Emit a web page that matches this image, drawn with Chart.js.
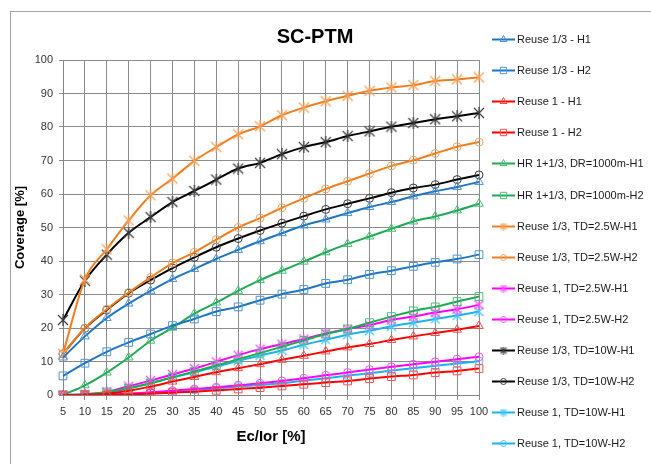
<!DOCTYPE html>
<html>
<head>
<meta charset="utf-8">
<script src="https://cdn.jsdelivr.net/npm/chart.js@4/dist/chart.umd.min.js"></script>
<style>
  html, body { margin: 0; padding: 0; background: #fff; overflow: hidden; }
  #wrap { width: 651px; height: 464px; position: relative; }
</style>
</head>
<body>
<div id="wrap"><canvas id="c" width="651" height="464"></canvas></div>
<script>
// Ec/Ior [%] categories
const ecIor = ['5','10','15','20','25','30','35','40','45','50','55','60','65','70','75','80','85','90','95','100'];
const yTicks = [0, 10, 20, 30, 40, 50, 60, 70, 80, 90, 100];

// Coverage [%] per configuration
const reuse13H1   = [11.2, 17.5, 23.0, 27.3, 31.1, 34.6, 37.6, 40.6, 43.3, 45.9, 48.3, 50.6, 52.4, 54.3, 56.1, 57.6, 59.3, 60.8, 62.1, 63.6];
const reuse13H2   = [5.7, 9.5, 12.9, 15.7, 18.2, 20.7, 22.7, 24.9, 26.3, 28.3, 30.1, 31.5, 33.3, 34.4, 36.0, 37.1, 38.4, 39.6, 40.6, 41.9];
const reuse1H1    = [0, 0.1, 0.4, 1.3, 2.5, 4.0, 5.4, 6.8, 8.0, 9.2, 10.5, 11.7, 13.0, 14.2, 15.2, 16.4, 17.5, 18.5, 19.5, 20.6];
const reuse1H2    = [0, 0, 0, 0.2, 0.4, 0.7, 1.0, 1.4, 1.8, 2.2, 2.7, 3.2, 3.7, 4.2, 4.9, 5.5, 6.0, 6.7, 7.2, 7.9];
const hrH1        = [0, 2.9, 6.7, 11.2, 16.2, 20.1, 24.3, 27.6, 31.1, 34.3, 37.1, 39.8, 42.6, 45.1, 47.3, 49.6, 51.8, 53.3, 55.1, 57.1];
const hrH2        = [0, 0.2, 0.9, 2.0, 3.5, 5.3, 7.0, 8.8, 10.7, 12.5, 14.4, 16.3, 18.2, 19.7, 21.6, 23.4, 25.1, 26.3, 27.9, 29.4];
const td25R13H1   = [12.3, 34.5, 43.5, 52.1, 59.6, 64.6, 69.9, 74.0, 77.8, 80.2, 83.5, 85.8, 87.7, 89.3, 90.8, 91.8, 92.5, 93.7, 94.2, 94.8];
const td25R13H2   = [12.3, 20.0, 25.6, 30.6, 35.1, 39.4, 42.6, 46.4, 50.0, 52.8, 55.9, 58.7, 61.5, 63.8, 66.1, 68.4, 70.1, 72.1, 74.1, 75.5];
const td25R1H1    = [0, 0.2, 0.9, 2.6, 4.3, 6.1, 7.9, 9.9, 11.9, 13.7, 15.2, 16.7, 18.4, 19.7, 20.9, 22.4, 23.4, 24.6, 25.6, 26.9];
const td25R1H2    = [0, 0, 0.1, 0.4, 0.8, 1.3, 1.8, 2.3, 2.9, 3.5, 4.2, 5.0, 5.9, 6.7, 7.6, 8.4, 9.2, 9.9, 10.7, 11.4];
const td10R13H1   = [22.4, 34.1, 41.9, 48.4, 53.1, 57.6, 60.9, 64.3, 67.6, 69.3, 71.9, 74.0, 75.5, 77.3, 78.7, 80.1, 81.2, 82.3, 83.2, 84.2];
const td10R13H2   = [12.3, 19.9, 25.4, 30.4, 34.3, 37.9, 41.1, 44.1, 46.7, 49.1, 51.3, 53.4, 55.4, 57.1, 58.7, 60.4, 61.8, 62.8, 64.3, 65.7];
const td10R1H1    = [0, 0.1, 0.7, 2.0, 3.5, 5.2, 6.8, 8.4, 10.2, 11.8, 13.3, 15.0, 16.5, 18.0, 19.2, 20.5, 21.6, 22.7, 23.7, 24.9];
const td10R1H2    = [0, 0, 0.1, 0.3, 0.6, 1.0, 1.5, 2.0, 2.5, 3.0, 3.5, 4.3, 5.0, 5.8, 6.5, 7.3, 8.0, 8.7, 9.4, 10.1];

const seriesNames = [
  'Reuse 1/3 - H1', 'Reuse 1/3 - H2', 'Reuse 1 - H1', 'Reuse 1 - H2',
  'HR 1+1/3, DR=1000m-H1', 'HR 1+1/3, DR=1000m-H2',
  'Reuse 1/3, TD=2.5W-H1', 'Reuse 1/3, TD=2.5W-H2',
  'Reuse 1, TD=2.5W-H1', 'Reuse 1, TD=2.5W-H2',
  'Reuse 1/3, TD=10W-H1', 'Reuse 1/3, TD=10W-H2',
  'Reuse 1, TD=10W-H1', 'Reuse 1, TD=10W-H2'
];
const seriesValues = [
  reuse13H1, reuse13H2, reuse1H1, reuse1H2, hrH1, hrH2,
  td25R13H1, td25R13H2, td25R1H1, td25R1H2,
  td10R13H1, td10R13H2, td10R1H1, td10R1H2
];

const FONT = '"Liberation Sans", Arial, sans-serif';

// asterisk marker: a diagonal cross with a vertical bar
function starMarker(color, size) {
  const c = document.createElement('canvas');
  c.width = size; c.height = size;
  const g = c.getContext('2d');
  g.strokeStyle = color;
  g.lineWidth = 1.2;
  g.beginPath();
  g.moveTo(1, 1); g.lineTo(size - 1, size - 1);
  g.moveTo(size - 1, 1); g.lineTo(1, size - 1);
  g.moveTo(size / 2, 0); g.lineTo(size / 2, size);
  g.stroke();
  return c;
}

// line colour, marker colour, marker style, marker radius, key marker
const styles = [
  ['#1f74c2', '#4a96dc', 'triangle', 5],
  ['#1f74c2', '#4a96dc', 'rect', 5.5],
  ['#ff0000', '#ff4d4d', 'triangle', 5],
  ['#ff0000', '#ff4d4d', 'rect', 5.5],
  ['#1daa52', '#45c275', 'triangle', 5],
  ['#1daa52', '#45c275', 'rect', 5.5],
  ['#f07d1e', '#f5a25c', starMarker('#f5a25c', 12), 6, starMarker('#f5a25c', 8)],
  ['#f07d1e', '#f5a25c', 'circle', 4],
  ['#ff00ff', '#ff4dff', starMarker('#ff4dff', 11), 6, starMarker('#ff4dff', 8)],
  ['#ff00ff', '#ff4dff', 'circle', 4],
  ['#000000', '#3c3c3c', starMarker('#3c3c3c', 12), 6, starMarker('#3c3c3c', 8)],
  ['#000000', '#3c3c3c', 'circle', 4],
  ['#18b4ee', '#4cc8f5', starMarker('#4cc8f5', 11), 6, starMarker('#4cc8f5', 8)],
  ['#18b4ee', '#4cc8f5', 'circle', 4]
];

const datasets = seriesNames.map((name, i) => ({
  label: name,
  data: seriesValues[i],
  borderColor: styles[i][0],
  borderWidth: 2,
  pointBorderColor: styles[i][1],
  pointBackgroundColor: 'rgba(0,0,0,0)',
  pointBorderWidth: 1,
  pointStyle: styles[i][2],
  pointRadius: styles[i][3],
  cubicInterpolationMode: 'monotone',
  fill: false
}));

const chartDecor = {
  id: 'chartDecor',
  beforeDraw(chart) {
    const ctx = chart.ctx;
    ctx.save();
    ctx.fillStyle = '#ffffff';
    ctx.fillRect(0, 0, chart.width, chart.height);
    ctx.strokeStyle = '#a6a6a6';
    ctx.lineWidth = 1;
    ctx.strokeRect(10.5, 11.5, 700, 500);
    ctx.restore();
  },
  afterDraw(chart) {
    const ctx = chart.ctx;
    ctx.save();
    ctx.fillStyle = '#000';
    ctx.font = 'bold 20px ' + FONT;
    ctx.textAlign = 'center';
    ctx.textBaseline = 'alphabetic';
    ctx.fillText('SC-PTM', 315, 43);

    // series key on the right
    ctx.font = '11px ' + FONT;
    ctx.textAlign = 'left';
    ctx.textBaseline = 'middle';
    chart.data.datasets.forEach((ds, i) => {
      const y = Math.round(39 + i * 31.1) + 0.5;
      ctx.strokeStyle = ds.borderColor;
      ctx.lineWidth = 2;
      ctx.beginPath();
      ctx.moveTo(492, y);
      ctx.lineTo(515, y);
      ctx.stroke();
      ctx.strokeStyle = ds.pointBorderColor;
      ctx.fillStyle = 'rgba(0,0,0,0)';
      ctx.lineWidth = 1;
      const keyStyle = styles[i][4] || ds.pointStyle;
      Chart.helpers.drawPoint(ctx, {
        pointStyle: keyStyle,
        rotation: 0,
        radius: ds.pointRadius - 1,
        borderWidth: 1
      }, 503.5, y);
      ctx.fillStyle = '#1a1a1a';
      ctx.fillText(ds.label, 517, y + 0.5);
    });
    ctx.restore();
  }
};

new Chart(document.getElementById('c'), {
  type: 'line',
  data: { labels: ecIor, datasets },
  plugins: [chartDecor],
  options: {
    responsive: false,
    animation: false,
    devicePixelRatio: 1,
    layout: { padding: { left: 12, top: 60, right: 172, bottom: 0 } },
    plugins: {
      legend: { display: false },
      title: { display: false },
      tooltip: { enabled: false }
    },
    scales: {
      x: {
        type: 'category',
        offset: false,
        grid: { color: '#8c8c8c', lineWidth: 1, drawTicks: true, tickLength: 5, tickColor: '#8c8c8c' },
        border: { color: '#868686', width: 1 },
        ticks: { color: '#333', font: { family: FONT, size: 11 }, padding: 5, maxRotation: 0, autoSkip: false },
        title: { display: true, text: 'Ec/Ior [%]', color: '#000', font: { family: FONT, size: 15, weight: 'bold' }, padding: { top: 0, bottom: 18 } },
        afterFit(scale) { scale.height = 69; }
      },
      y: {
        min: 0,
        max: 100,
        afterBuildTicks(scale) { scale.ticks = yTicks.map(v => ({ value: v })); },
        grid: { color: '#8c8c8c', lineWidth: 1, drawTicks: true, tickLength: 4, tickColor: '#8c8c8c' },
        border: { color: '#868686', width: 1 },
        ticks: { color: '#333', font: { family: FONT, size: 11 }, padding: 6 },
        title: { display: true, text: 'Coverage [%]', color: '#000', font: { family: FONT, size: 13, weight: 'bold' }, padding: { top: 1, bottom: 0 } },
        afterFit(scale) { scale.width = 51; }
      }
    }
  }
});
</script>
</body>
</html>
